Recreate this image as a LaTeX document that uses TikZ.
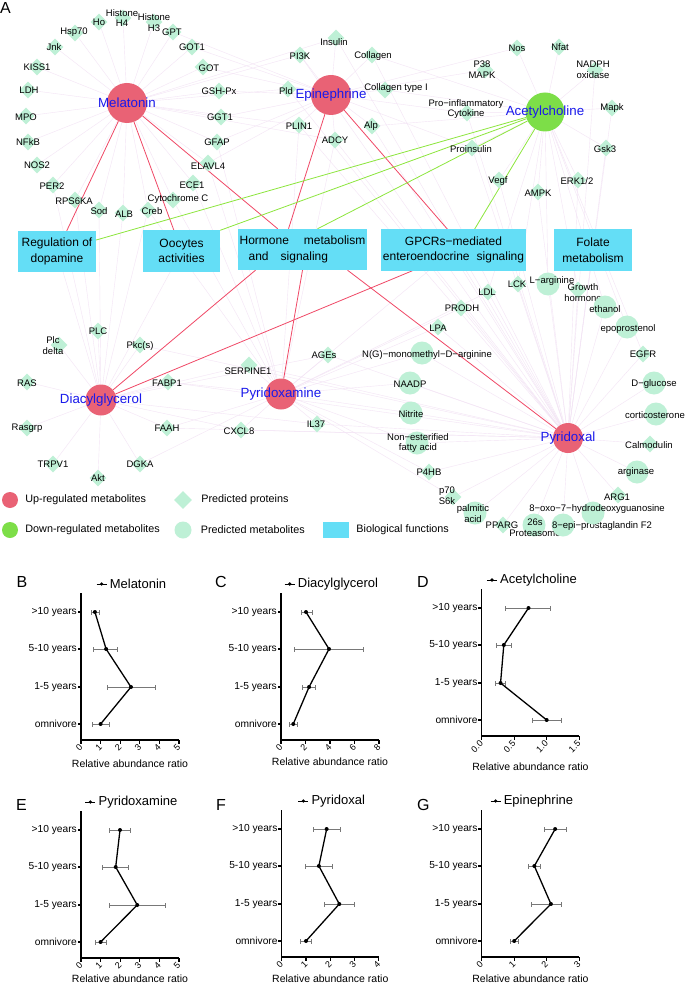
\documentclass[tikz,border=0pt]{standalone}
\usepackage{fontspec}
\setmainfont{Liberation Sans}
\usetikzlibrary{shapes.geometric,positioning,backgrounds}
\definecolor{hubred}{RGB}{233,98,117}
\definecolor{hubgreen}{RGB}{125,222,72}
\definecolor{mint}{RGB}{190,240,214}
\definecolor{funcyan}{RGB}{100,222,246}
\definecolor{lblblue}{RGB}{25,25,235}
\definecolor{upred}{RGB}{240,72,102}
\definecolor{downgreen}{RGB}{140,230,60}
\definecolor{faintpink}{RGB}{243,228,245}
\definecolor{errgray}{RGB}{120,120,120}

% one abundance panel: origin x, origin y, pt per unit, ticks, x max, title, data, axis title offset
\newcommand{\abplot}[8]{%
  \begin{scope}[shift={(#1,#2)}, x=#3pt, y=-1pt]
    \draw[axisln] (0,-147) -- (0,0) -- (#5,0);
    \foreach \tk in {#4} {
      \draw[axisln] (\tk,0) -- (\tk,4);
      \node[ticklbl] (tk) at (\tk,6) {\tk};
    }
    \foreach \yy/\cat in {-16/omnivore,-53/1-5 years,-91/5-10 years,-128/>10 years} {
      \draw[axisln] (0,\yy) -- ([xshift=-3.5pt]0,\yy);
      \node[catlbl] (cat) at ([xshift=-3.5pt]0,\yy) {\cat};
    }
    \foreach \yy/\m/\lo/\hi [count=\k] in {#7} {
      \draw[errbar] (\lo,\yy) -- (\hi,\yy);
      \draw[errbar] ([yshift=-2.5pt]\lo,\yy) -- ([yshift=2.5pt]\lo,\yy);
      \draw[errbar] ([yshift=-2.5pt]\hi,\yy) -- ([yshift=2.5pt]\hi,\yy);
      \coordinate (pt\k) at (\m,\yy);
    }
    \draw[dataln] (pt1) -- (pt2) -- (pt3) -- (pt4);
    \foreach \k in {1,...,4} \fill (pt\k) circle (2pt);
    \node[ptitle] (ttl) at ([xshift=8pt]#5*0.5,-156) {#6};
    \draw[line width=0.9pt] ([xshift=-13pt]ttl.west) -- ([xshift=-3pt]ttl.west);
    \fill ([xshift=-8pt]ttl.west) circle (1.8pt);
    \node[xtitle] (xt) at (#5*0.5,#8) {Relative abundance ratio};
  \end{scope}}

\begin{document}
\begin{tikzpicture}[
  x=1pt, y=-1pt,
  hubup/.style = {circle, fill=hubred, inner sep=0pt, minimum size=40pt},
  hubdown/.style = {circle, fill=hubgreen, inner sep=0pt, minimum size=39pt},
  hublbl/.style = {font=\fontsize{13.3}{15}\selectfont, text=lblblue, inner sep=0pt},
  prot/.style = {diamond, fill=mint, inner sep=0pt, minimum width=17pt, minimum height=17pt},
  metab/.style = {circle, fill=mint, inner sep=0pt, minimum size=23pt},
  lbl/.style = {font=\fontsize{9.5}{10.8}\selectfont, align=center, inner sep=0pt},
  fbox/.style = {rectangle, fill=funcyan, inner sep=2pt, minimum height=41pt,
    align=center, font=\fontsize{12}{15.5}\selectfont},
  faint/.style = {draw=faintpink, line width=0.4pt},
  upedge/.style = {draw=upred, line width=0.8pt},
  downedge/.style = {draw=downgreen, line width=0.8pt},
  legtxt/.style = {font=\fontsize{10.8}{12}\selectfont, inner sep=0pt},
  panel/.style = {font=\fontsize{16}{18}\selectfont, inner sep=0pt, anchor=base west},
  axisln/.style = {line width=1.1pt},
  dataln/.style = {line width=1.3pt, line join=round},
  errbar/.style = {draw=errgray, line width=0.6pt},
  ticklbl/.style = {font=\fontsize{9}{10}\selectfont, rotate=45, anchor=east, inner sep=0pt},
  catlbl/.style = {font=\fontsize{10.2}{11}\selectfont, anchor=east, inner sep=0.5pt},
  ptitle/.style = {font=\fontsize{13}{15}\selectfont, inner sep=0pt},
  xtitle/.style = {font=\fontsize{10.5}{12}\selectfont, inner sep=0pt}
]
  \useasboundingbox (0,0) rectangle (685,984);
  \begin{scope}[on background layer]
    \fill[white] (0,0) rectangle (685,984);
  \end{scope}

  \node[panel] (pA) at (0,13.5) {A};

  % metabolites of the study
  \node[hubup, label={[hublbl]center:Melatonin}] (mel) at (127,103) {};
  \node[hubup, label={[hublbl]center:Epinephrine}] (epi) at (331,95) {};
  \node[hubdown, label={[hublbl]center:Acetylcholine}] (ach) at (545,112) {};
  \node[hubup, minimum size=31pt, label={[hublbl]center:Diacylglycerol}] (dag) at (101,400) {};
  \node[hubup, minimum size=31pt, label={[hublbl]center:Pyridoxamine}] (pym) at (281,394) {};
  \node[hubup, minimum size=30pt, label={[hublbl]center:Pyridoxal}] (pyl) at (568,438) {};

  % biological functions
  \node[fbox, minimum width=78pt] (fdop) at (57,251.5) {Regulation of\\dopamine};
  \node[fbox, minimum width=77pt] (fooc) at (181.5,251) {Oocytes\\activities};
  \node[fbox, minimum width=129pt, align=left] (fhor) at (302.5,249.5)
    {Hormone\hspace{15pt}metabolism\\\hspace*{9pt}and\hspace{12pt}signaling};
  \node[fbox, minimum width=143pt] (fgpc) at (453.5,250)
    {GPCRs−mediated\\enteroendocrine\hspace{7pt}signaling};
  \node[fbox, minimum width=78pt] (ffol) at (593,250) {Folate\\metabolism};

  % predicted proteins
  \foreach \n/\x/\y/\lx/\ly/\txt in {
    ho/99/22/99/22/Ho, hfour/123/18/122/18/Histone\\H4, hthree/154/22/154/22.5/Histone\\H3,
    gpt/173/32/172/32/GPT, hsp/75/33/74/32/Hsp70, goti/192/47/192/47/GOT1,
    jnk/55/47/54/47/Jnk, kiss/37/67/37/67/KISS1, got/203/67/209/68/GOT,
    ldh/28/90/29/90/LDH, gsh/219/91/219/91/GSH-Px, mpo/26/116/26/117/MPO,
    ggt/221/117/220/117/GGT1, nfkb/28/142/28/142/NFkB, gfap/217/142/217/142/GFAP,
    nos2/37/165/37/165/NOS2, elav/208/163/208/166/ELAVL4, per/53/185/52/186/PER2,
    ece/193/183/192/185/ECE1, rps/75/200/74/201/RPS6KA, cytc/173/200/178/199/Cytochrome C,
    sod/99/210/99/211/Sod, alb/123/213/124/214/ALB, creb/148/210/152/211/Creb,
    ins/336/38/334/42/Insulin, pik/300/55/300/56/PI3K, col/372/55/373/56/Collagen,
    pld/288/89/286/91/Pld, coli/385/90/396/88/Collagen type I, plin/299/125/299/126/PLIN1,
    alp/372/126/371/126/Alp, adcy/335/140/335/140/ADCY,
    nos/517/48/517/48/Nos, nfat/559/47/560/47/Nfat, pmapk/485/70/482/70/P38\\MAPK,
    nadph/595/70/593/70/NADPH\\oxidase, pic/467/113/466/109/Pro−inflammatory\\Cytokine,
    mapk/612/108/612/108/Mapk, proins/472/148/471/149/Proinsulin, gsk/606/148/605/149/Gsk3,
    vegf/499/180/498/181/Vegf, erk/578/180/577/181/{ERK1/2}, ampk/538/192/538/193/AMPK,
    plc/98/331/98/331/PLC, plcd/59/345/53/345.5/Plc\\delta, pkc/140/345/140/346/Pkc(s),
    ras/27/382/27/383/RAS, fabp/168/382/167/383/FABP1, rasgrp/27/428/27/428/Rasgrp,
    faah/167/428/167/428/FAAH, trpv/53/464/53/464/TRPV1, dgka/140/464/140/464/DGKA,
    akt/98/478/98/478/Akt,
    ages/328/355/324/355/AGEs, serp/249/365/248/371/SERPINE1, cxcl/241/430/239/431/CXCL8,
    il37/317/424/316/424/IL37,
    lpa/438/327/438/328/LPA, prodh/461/308/462/308/PRODH, p4hb/429/472/429/472/P4HB,
    psk/453/497/447/496/p70\\S6k, pparg/503/525/502/525/PPARG, arg/618/495/617/497/ARG1,
    calm/650/444/649/445/Calmodulin, egfr/643/354/643/354/EGFR,
    ghorm/578/290/583/293/Growth\\hormone, lck/518/284/517/284/LCK, ldl/488/292/487/292/LDL} {
    \node[prot] (\n) at (\x,\y) {};
    \node[lbl] (l\n) at (\lx,\ly) {\txt};
  }

  % predicted metabolites
  \foreach \n/\x/\y/\lx/\ly/\txt in {
    ngm/422/353/427/355/N(G)−monomethyl−D−arginine, naadp/410/383/410/384/NAADP,
    nitr/411/413/411/414/Nitrite, nefa/417/443/418/443/Non−esterified\\fatty acid,
    palm/475/513/473/514/palmitic\\acid, prot26/534/525/535/528/26s\\Proteasome,
    epi8/563/525/602/526/8−epi−prostaglandin F2, oxo8/593/513/597/509/8−oxo−7−hydrodeoxyguanosine,
    argn/637/472/636/472/arginase, cort/656/414/655/415/corticosterone,
    dglu/654/383/654/384/D−glucose, epop/627/327/628/329/epoprostenol,
    eth/605/307/605/309/ethanol, larg/548/284/552/281/L−arginine} {
    \node[metab] (\n) at (\x,\y) {};
    \node[lbl] (l\n) at (\lx,\ly) {\txt};
  }

  \begin{scope}[on background layer]
    \foreach \s in {ho,hfour,hthree,gpt,hsp,goti,jnk,kiss,got,ldh,gsh,mpo,ggt,nfkb,gfap,
      nos2,elav,per,ece,rps,cytc,sod,alb,creb,pik,pld,plin,adcy,ins}
      \draw[faint] (mel) -- (\s);
    \foreach \s in {ins,pik,col,pld,coli,plin,alp,adcy,gsh,ggt,got,goti,gpt,gfap,elav,
      proins,pic,pmapk,nos}
      \draw[faint] (epi) -- (\s);
    \foreach \s in {nos,nfat,pmapk,nadph,pic,mapk,proins,gsk,vegf,erk,ampk,lck,ldl,larg,
      ghorm,eth,epop,egfr,coli,alp,col}
      \draw[faint] (ach) -- (\s);
    \foreach \s in {plc,plcd,pkc,ras,fabp,rasgrp,faah,trpv,dgka,akt,sod,alb,rps,per,creb,
      serp,cxcl,ages,il37,fdop,fooc}
      \draw[faint] (dag) -- (\s);
    \foreach \s in {ages,serp,cxcl,il37,ngm,naadp,nitr,nefa,p4hb,psk,lpa,prodh,ldl,gfap,
      elav,ece,cytc,creb,adcy,plin,fabp,faah,dgka,fgpc}
      \draw[faint] (pym) -- (\s);
    \foreach \s in {lpa,prodh,p4hb,psk,pparg,arg,calm,egfr,ghorm,lck,ldl,ngm,naadp,nitr,
      nefa,palm,prot26,epi8,oxo8,argn,cort,dglu,epop,eth,larg,adcy,alp,plin,pld,pik,col,
      ins,proins,vegf,ampk,erk,gsk,mapk,nadph,pic,ages,il37,serp,cxcl,fabp,faah,pkc,
      ffol,fgpc}
      \draw[faint] (pyl) -- (\s);

    \draw[upedge] (mel) -- (fdop);
    \draw[upedge] (mel) -- (fooc);
    \draw[upedge] (mel) -- (fhor);
    \draw[upedge] (epi) -- ([xshift=-14pt]fhor.north);
    \draw[upedge] (epi) -- ([xshift=-6pt]fgpc.north);
    \draw[upedge] (dag) -- ([xshift=-47pt]fhor.south);
    \draw[upedge] (dag) -- ([xshift=-41pt]fgpc.south);
    \draw[upedge] (pym) -- (fhor.south);
    \draw[upedge] (pyl) -- ([xshift=45pt]fhor.south);
    \draw[downedge] (ach) -- ([yshift=11.5pt]fdop.east);
    \draw[downedge] (ach) -- (fooc.north east);
    \draw[downedge] (ach) -- ([xshift=15pt]fhor.north);
    \draw[downedge] (ach) -- ([xshift=21pt]fgpc.north);
  \end{scope}

  % legend
  \node[hubup, minimum size=16pt] (kup) at (10,500) {};
  \node[legtxt, right=7pt of kup] (kupt) {Up-regulated metabolites};
  \node[hubdown, minimum size=16pt] (kdown) at (10,530) {};
  \node[legtxt, right=7pt of kdown] (kdownt) {Down-regulated metabolites};
  \node[prot, minimum width=18pt, minimum height=18pt] (kprot) at (183,500) {};
  \node[legtxt, right=9pt of kprot] (kprott) {Predicted proteins};
  \node[metab, minimum size=17pt] (kmet) at (183,530) {};
  \node[legtxt, right=9pt of kmet] (kmett) {Predicted metabolites};
  \node[fbox, minimum width=26pt, minimum height=16pt] (kfun) at (336,530) {};
  \node[legtxt, right=7pt of kfun] (kfunt) {Biological functions};

  % abundance panels
  \node[panel] (pB) at (16.5,587.5) {B};
  \node[panel] (pC) at (215,587.5) {C};
  \node[panel] (pD) at (417,587) {D};
  \node[panel] (pE) at (16,810) {E};
  \node[panel] (pF) at (216,810) {F};
  \node[panel] (pG) at (417,810) {G};

  \abplot{81}{740}{19.6}{0,1,2,3,4,5}{5}{Melatonin}
    {-16/1.0/0.6/1.42, -53/2.55/1.34/3.78, -91/1.28/0.63/1.85, -128/0.71/0.55/0.92}{24}
  \abplot{281}{740}{12.25}{0,2,4,6,8}{8}{Diacylglycerol}
    {-16/1.0/0.68/1.33, -53/2.29/1.74/2.83, -91/3.92/1.06/6.7, -128/2.04/1.63/2.56}{22}
  \abplot{481.7}{736}{65}{0.0,0.5,1.0,1.5}{1.5}{Acetylcholine}
    {-16/1.0/0.78/1.22, -53/0.29/0.21/0.36, -91/0.34/0.22/0.46, -128/0.72/0.37/1.06}{31}
  \abplot{81}{958}{19.6}{0,1,2,3,4,5}{5}{Pyridoxamine}
    {-16/1.0/0.75/1.28, -53/2.87/1.45/4.32, -91/1.77/1.1/2.41, -128/1.99/1.45/2.5}{21}
  \abplot{281.7}{957}{24.3}{0,1,2,3,4}{4}{Pyridoxal}
    {-16/1.0/0.75/1.23, -53/2.37/1.75/2.99, -91/1.53/0.99/2.08, -128/1.85/1.3/2.4}{22}
  \abplot{481.7}{957}{32.5}{0,1,2,3}{3}{Epinephrine}
    {-16/1.0/0.87/1.13, -53/2.13/1.54/2.44, -91/1.62/1.43/1.79, -128/2.26/1.93/2.6}{22}
\end{tikzpicture}
\end{document}
